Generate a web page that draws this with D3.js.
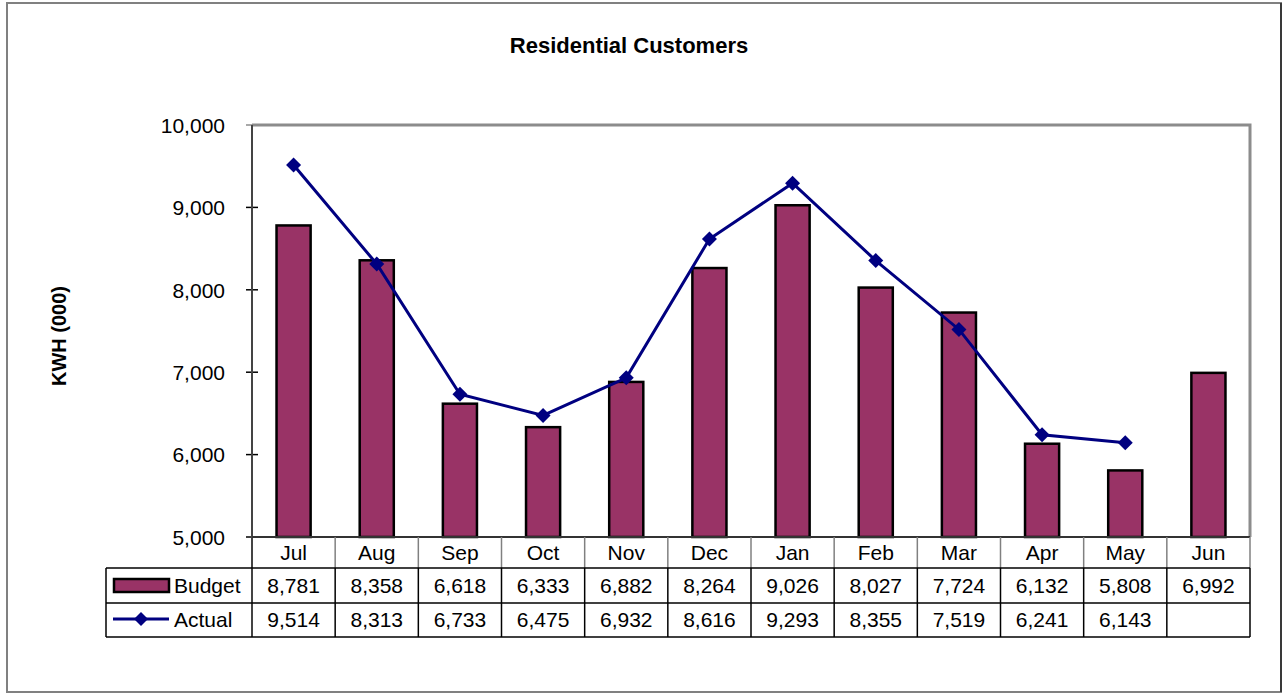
<!DOCTYPE html>
<html lang="en">
<head>
  <meta charset="UTF-8">
  <title>Residential Customers</title>
  <script src="https://d3js.org/d3.v7.min.js"></script>
  <style>
    body {
      margin: 0;
      padding: 0;
      background: #fff;
      font-family: 'Liberation Sans', Arial, sans-serif;
    }
    svg text {
      font-family: 'Liberation Sans', Arial, sans-serif;
      fill: #000;
    }
  </style>
</head>
<body>
  <svg id="chart" width="1283" height="694"></svg>
  <script>
    const months = ["Jul", "Aug", "Sep", "Oct", "Nov", "Dec", "Jan", "Feb", "Mar", "Apr", "May", "Jun"];
    const budget = [8781, 8358, 6618, 6333, 6882, 8264, 9026, 8027, 7724, 6132, 5808, 6992];
    const actual = [9514, 8313, 6733, 6475, 6932, 8616, 9293, 8355, 7519, 6241, 6143, null];
    const yTicks = [5000, 6000, 7000, 8000, 9000, 10000];

    const svg = d3.select("#chart");
    const plot = { left: 252, right: 1250, top: 125, bottom: 537 };
    const rowY = [537, 568, 603, 637];   // table row edges
    const legendLeft = 106;
    const fmt = d3.format(",");

    const x = d3.scaleBand().domain(months).range([plot.left, plot.right]).padding(0);
    const y = d3.scaleLinear().domain([5000, 10000]).range([plot.bottom, plot.top]);
    const barW = x.bandwidth() * 0.41;

    // chart area border
    svg.append("rect")
      .attr("x", 7).attr("y", 3).attr("width", 1274).attr("height", 689)
      .attr("fill", "#fff").attr("stroke", "#808080").attr("stroke-width", 2);
    svg.append("line")
      .attr("x1", 1281).attr("x2", 1281).attr("y1", 3).attr("y2", 692)
      .attr("stroke", "#222").attr("stroke-width", 1.5);

    // title
    svg.append("text")
      .attr("x", 629).attr("y", 53)
      .attr("text-anchor", "middle")
      .attr("font-size", 22).attr("font-weight", "bold")
      .text("Residential Customers");

    // y axis label
    svg.append("text")
      .attr("transform", "translate(66,336) rotate(-90)")
      .attr("text-anchor", "middle")
      .attr("font-size", 20).attr("font-weight", "bold")
      .text("KWH (000)");

    // plot frame (top/right gray)
    svg.append("path")
      .attr("d", `M${plot.left},${plot.top}H${plot.right}V${plot.bottom}`)
      .attr("fill", "none").attr("stroke", "#8c8c8c").attr("stroke-width", 3);

    // y axis
    const yAxis = d3.axisLeft(y).tickValues(yTicks).tickFormat(fmt).tickSize(0).tickPadding(27);
    const gy = svg.append("g").attr("transform", `translate(${plot.left},0)`).call(yAxis);
    gy.select(".domain").remove();
    gy.selectAll("text").attr("font-size", 21).attr("dy", "0.35em");
    svg.append("g").selectAll("line").data(yTicks).join("line")
      .attr("x1", plot.left - 6).attr("x2", d => d === 5000 ? plot.left : plot.left + 6)
      .attr("y1", d => y(d)).attr("y2", d => y(d))
      .attr("stroke", d => d === 10000 ? "#8c8c8c" : "#000").attr("stroke-width", 1.5);

    // bars
    svg.append("g").selectAll("rect").data(months).join("rect")
      .attr("x", d => x(d) + (x.bandwidth() - barW) / 2)
      .attr("y", (d, i) => y(budget[i]))
      .attr("width", barW)
      .attr("height", (d, i) => plot.bottom - y(budget[i]))
      .attr("fill", "#993366")
      .attr("stroke", "#000").attr("stroke-width", 2.5);

    // actual line
    const pts = months.map((m, i) => ({ m, v: actual[i] })).filter(d => d.v != null);
    const line = d3.line().x(d => x(d.m) + x.bandwidth() / 2).y(d => y(d.v));
    svg.append("path").datum(pts)
      .attr("d", line)
      .attr("fill", "none").attr("stroke", "#000080").attr("stroke-width", 3);

    const diamond = r => `M0,${-r}L${r},0L0,${r}L${-r},0Z`;
    svg.append("g").selectAll("path").data(pts).join("path")
      .attr("transform", d => `translate(${x(d.m) + x.bandwidth() / 2},${y(d.v)})`)
      .attr("d", diamond(7.5))
      .attr("fill", "#000080");

    // left and bottom axis lines
    svg.append("line")
      .attr("x1", plot.left).attr("x2", plot.left).attr("y1", plot.top).attr("y2", rowY[3])
      .attr("stroke", "#444").attr("stroke-width", 2);
    svg.append("line")
      .attr("x1", plot.left).attr("x2", plot.right).attr("y1", plot.bottom).attr("y2", plot.bottom)
      .attr("stroke", "#333").attr("stroke-width", 2);

    // data table
    const table = svg.append("g");
    // category row verticals (gray)
    table.selectAll("line.cat").data(months).join("line")
      .attr("class", "cat")
      .attr("x1", d => x(d) + x.bandwidth()).attr("x2", d => x(d) + x.bandwidth())
      .attr("y1", rowY[0]).attr("y2", rowY[1])
      .attr("stroke", "#808080").attr("stroke-width", 1.5);
    // data row verticals (black)
    table.selectAll("line.val").data(months).join("line")
      .attr("class", "val")
      .attr("x1", d => x(d) + x.bandwidth()).attr("x2", d => x(d) + x.bandwidth())
      .attr("y1", rowY[1]).attr("y2", rowY[3])
      .attr("stroke", "#000").attr("stroke-width", 1.5);
    table.append("line")
      .attr("x1", legendLeft).attr("x2", legendLeft).attr("y1", rowY[1]).attr("y2", rowY[3])
      .attr("stroke", "#000").attr("stroke-width", 1.5);
    table.selectAll("line.h").data([rowY[1], rowY[2], rowY[3]]).join("line")
      .attr("class", "h")
      .attr("x1", legendLeft).attr("x2", plot.right)
      .attr("y1", d => d).attr("y2", d => d)
      .attr("stroke", "#000").attr("stroke-width", 1.5);

    table.selectAll("text.cat").data(months).join("text")
      .attr("class", "cat")
      .attr("x", d => x(d) + x.bandwidth() / 2).attr("y", 560)
      .attr("text-anchor", "middle").attr("font-size", 21)
      .text(d => d);
    table.selectAll("text.bud").data(months).join("text")
      .attr("class", "bud")
      .attr("x", d => x(d) + x.bandwidth() / 2).attr("y", 593)
      .attr("text-anchor", "middle").attr("font-size", 21)
      .text((d, i) => fmt(budget[i]));
    table.selectAll("text.act").data(months).join("text")
      .attr("class", "act")
      .attr("x", d => x(d) + x.bandwidth() / 2).attr("y", 627)
      .attr("text-anchor", "middle").attr("font-size", 21)
      .text((d, i) => actual[i] == null ? "" : fmt(actual[i]));

    // legend keys
    table.append("rect")
      .attr("x", 114).attr("y", 579).attr("width", 55).attr("height", 13)
      .attr("fill", "#993366").attr("stroke", "#000").attr("stroke-width", 2.5);
    table.append("text").attr("x", 174).attr("y", 593).attr("font-size", 21).text("Budget");
    table.append("line")
      .attr("x1", 113).attr("x2", 169).attr("y1", 619).attr("y2", 619)
      .attr("stroke", "#000080").attr("stroke-width", 3);
    table.append("path")
      .attr("transform", "translate(141,619)")
      .attr("d", diamond(7))
      .attr("fill", "#000080");
    table.append("text").attr("x", 174).attr("y", 627).attr("font-size", 21).text("Actual");
  </script>
</body>
</html>
